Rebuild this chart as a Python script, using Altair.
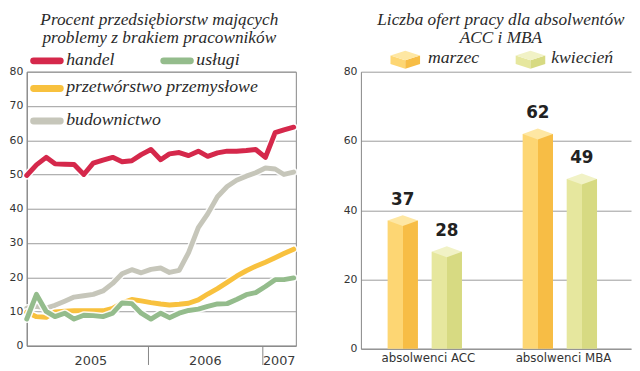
import altair as alt
import pandas as pd

# ---------------- data: left chart ----------------
month_list = [(2004, 12)] + [(2005, m) for m in range(1, 13)] + [(2006, m) for m in range(1, 13)] + [(2007, m) for m in range(1, 5)]
dates = [f"{y}-{m:02d}-10" for y, m in month_list]

series_names = ["handel", "usługi", "przetwórstwo przemysłowe", "budownictwo"]
handel = [49.7, 52.8, 55.0, 53.1, 53.0, 52.9, 50.0, 53.3, 54.2, 55.0, 53.7, 54.0, 55.8, 57.3, 54.3,
          56.0, 56.4, 55.5, 56.8, 55.3, 56.3, 56.8, 56.8, 57.0, 57.3, 55.0, 62.2, 63.0, 63.8]
uslugi = [7.8, 15.0, 10.0, 8.5, 9.5, 7.8, 8.9, 8.8, 8.5, 9.5, 12.5, 12.3, 9.5, 7.8, 9.5,
          8.2, 9.5, 10.3, 10.7, 11.5, 12.2, 12.3, 13.5, 14.9, 15.5, 17.3, 19.3, 19.3, 19.8]
przetworstwo = [9.8, 8.5, 8.3, 9.9, 10.1, 10.2, 10.2, 10.2, 10.2, 10.9, 12.5, 13.5, 13.1, 12.6, 12.2,
                11.9, 12.1, 12.4, 13.4, 15.1, 16.7, 18.5, 20.3, 21.9, 23.2, 24.4, 25.7, 26.9, 28.2]
budownictwo = [11.0, 11.5, 11.0, 11.8, 13.0, 14.2, 14.6, 15.0, 16.0, 18.2, 21.0, 22.2, 21.3, 22.3, 22.7,
               21.4, 22.0, 27.2, 34.5, 38.5, 43.5, 46.5, 48.3, 49.5, 50.5, 51.9, 51.6, 50.0, 50.7]
series_values = [handel, uslugi, przetworstwo, budownictwo]
series_colors = ["#D5284B", "#94BC8C", "#F8C13E", "#C6C6BA"]

years = ["2005", "2006", "2007"]
y_ticks_left = [0, 10, 20, 30, 40, 50, 60, 70, 80]

# ---------------- data: right chart ----------------
categories = ["absolwenci ACC", "absolwenci MBA"]
months = ["marzec", "kwiecień"]
values_marzec = [37, 62]
values_kwiecien = [28, 49]
y_ticks_right = [0, 20, 40, 60, 80]

title_left = "Procent przedsiębiorstw mających\nproblemy z brakiem pracowników"
title_right = "Liczba ofert pracy dla absolwentów\nACC i MBA"

# ---------------- build tables ----------------
rows = []
for name, vals in zip(series_names, series_values):
    for d, v in zip(dates, vals):
        rows.append({"date": d, "value": v, "series": name})
df_lines = pd.DataFrame(rows)

dom_start = "2004-12-10"
dom_end = "2007-04-17"
ts = pd.Timestamp
year_bounds = [(max(ts(dom_start), ts(f"{y}-01-01")), min(ts(dom_end), ts(f"{int(y)+1}-01-01"))) for y in years]
year_mid = [(a + (b - a) / 2).strftime("%Y-%m-%dT%H:%M:%SZ") for a, b in year_bounds]
df_years = pd.DataFrame({"year": years, "mid": year_mid})

df_bars = pd.DataFrame({
    "cat": categories * 2,
    "month": [months[0]] * 2 + [months[1]] * 2,
    "val": values_marzec + values_kwiecien,
})

# ---------------- styles ----------------
SANS = "DejaVu Sans"
SERIF = "Liberation Serif"
GRID = "#9a9a9a"
DOMAIN = "#858585"
LBL = "#333333"

WL, HL = 273, 278
WR, HR = 274, 281

def dt(s):
    t = ts(s)
    return alt.DateTime(year=t.year, month=t.month, date=t.day, utc=True)

x_axis_left = alt.Axis(values=[dt("2006-01-01"), dt("2007-01-01")], labels=False, title=None,
                       grid=False, tickSize=19, tickColor=DOMAIN, tickWidth=1,
                       domainColor=DOMAIN, domainWidth=1)
x_scale_left = alt.Scale(type="utc", domain=[dt(dom_start), dt(dom_end)])
x_left = alt.X("date:T", scale=x_scale_left, axis=x_axis_left)
y_left = alt.Y("value:Q", scale=alt.Scale(domain=[0, 80], nice=False),
               axis=alt.Axis(values=y_ticks_left, title=None, grid=True, gridColor=GRID, gridWidth=1,
                             ticks=False, domainColor=DOMAIN, labelFont=SANS, labelFontSize=11,
                             labelColor=LBL, labelPadding=4))

def one(text):
    return pd.DataFrame({"t": [text]})

def txt(text, x, y, **kw):
    return alt.Chart(one(text)).mark_text(**kw).encode(text="t:N", x=alt.value(x), y=alt.value(y))

left_layers = []
draw_order = ["budownictwo", "przetwórstwo przemysłowe", "usługi", "handel"]
color_of = dict(zip(series_names, series_colors))
base = alt.Chart(df_lines)
for name in draw_order:
    f = base.transform_filter(alt.datum.series == name)
    left_layers.append(f.mark_line(strokeWidth=8, color="white", opacity=0.9,
                                   strokeJoin="round", strokeCap="round").encode(x=x_left, y=y_left))
    left_layers.append(f.mark_line(strokeWidth=5, color=color_of[name],
                                   strokeJoin="round", strokeCap="round").encode(x=x_left, y=y_left))

x_years = alt.X("mid:T", scale=x_scale_left, axis=x_axis_left)
left_layers.append(alt.Chart(df_years).mark_text(font=SANS, fontSize=13, color="#3a3a3a", baseline="middle")
                   .encode(x=x_years, text="year:N", y=alt.value(HL + 16)))

# title
left_layers.append(txt(title_left, WL / 2 - 2, -47, font=SERIF, fontStyle="italic", fontSize=17.5,
                       color="#2a2a2a", lineBreak="\n", lineHeight=18, align="center", baseline="alphabetic"))

# legend (left)
leg_items = [("handel", 7, 40, -12), ("usługi", 139, 172, -12),
             ("przetwórstwo przemysłowe", 7, 40, 16), ("budownictwo", 7, 40, 49)]
for name, sx, tx, ty in leg_items:
    left_layers.append(alt.Chart(one(name)).mark_rule(strokeWidth=7, strokeCap="round", color=color_of[name])
                       .encode(x=alt.value(sx), x2=alt.value(sx + 27), y=alt.value(ty + 1)))
    left_layers.append(txt(name, tx, ty, font=SERIF, fontStyle="italic", fontSize=18, color="#2a2a2a",
                           align="left", baseline="middle"))

left = alt.layer(*left_layers).properties(width=WL, height=HL, view=alt.ViewBackground(stroke=DOMAIN, strokeWidth=1))

# ---------------- right chart ----------------
bar_light = {"marzec": "#FDD673", "kwiecień": "#E6E79E"}
bar_dark = {"marzec": "#F7BD45", "kwiecień": "#D7DA82"}
bar_cap = {"marzec": "#FEE7A3", "kwiecień": "#F1F2C6"}

x_right = alt.X("cat:N", scale=alt.Scale(domain=categories, paddingInner=0, paddingOuter=0),
                axis=alt.Axis(title=None, labelAngle=0, ticks=False, domainColor=DOMAIN,
                              labelFont=SANS, labelFontSize=12, labelColor=LBL, labelPadding=4))
xoff = alt.XOffset("month:N", scale=alt.Scale(domain=months, paddingInner=0.311, paddingOuter=0.689, align=0.44))
y_right = alt.Y("val:Q", scale=alt.Scale(domain=[0, 80], nice=False),
                axis=alt.Axis(values=y_ticks_right, title=None, grid=True, gridColor=GRID, gridWidth=1,
                              ticks=False, domainColor=DOMAIN, labelFont=SANS, labelFontSize=11,
                              labelColor=LBL, labelPadding=4))

step = WR / 2 / (2 - 0.311 + 2 * 0.689)
bw = step * (1 - 0.311)

right_layers = []
rbase = alt.Chart(df_bars)
for m in months:
    f = rbase.transform_filter(alt.datum.month == m)
    grad = alt.LinearGradient(gradient="linear", x1=0, x2=1, y1=0, y2=0,
                              stops=[alt.GradientStop(offset=0, color=bar_light[m]),
                                     alt.GradientStop(offset=0.5, color=bar_light[m]),
                                     alt.GradientStop(offset=0.5, color=bar_dark[m]),
                                     alt.GradientStop(offset=1, color=bar_dark[m])])
    right_layers.append(f.mark_bar(color=grad).encode(x=x_right, xOffset=xoff, y=y_right))
    right_layers.append(f.mark_point(shape="M-1,0L0,-0.36L1,0L0,0.36Z", size=bw * bw, filled=True,
                                     opacity=1, color=bar_cap[m], strokeWidth=0)
                        .encode(x=x_right, xOffset=xoff, y=y_right))
right_layers.append(rbase.mark_text(font=SANS, fontWeight="bold", fontSize=17, color="#222222",
                                    baseline="middle", dy=-21)
                    .encode(x=x_right, xOffset=xoff, y=y_right, text="val:Q"))

right_layers.append(txt(title_right, 142, -47, font=SERIF, fontStyle="italic", fontSize=17.5,
                        color="#2a2a2a", lineBreak="\n", lineHeight=18, align="center", baseline="alphabetic"))

# legend (right) : small 3D box icons
icon_top = "M-1,-0.3L0,-0.62L1,-0.3L0,0.02Z"
icon_left = "M-1,-0.3L0,0.02L0,0.6L-1,0.28Z"
icon_right = "M0,0.02L1,-0.3L1,0.28L0,0.6Z"
for m, ix, tx in [("marzec", 45, 68), ("kwiecień", 172, 193)]:
    for path, col in [(icon_left, bar_light[m]), (icon_right, bar_dark[m]), (icon_top, bar_cap[m])]:
        right_layers.append(alt.Chart(one(m)).mark_point(shape=path, size=900, filled=True, opacity=1,
                                                          color=col, strokeWidth=0)
                            .encode(x=alt.value(ix), y=alt.value(-12)))
    right_layers.append(txt(m, tx, -14, font=SERIF, fontStyle="italic", fontSize=18, color="#2a2a2a",
                            align="left", baseline="middle"))

right = alt.layer(*right_layers).properties(width=WR, height=HR,
                                           view=alt.ViewBackground(stroke="transparent"))

chart = alt.hconcat(left, right, spacing=44).properties(padding={"left": 0, "top": 0, "right": 0, "bottom": 0})
chart = chart.configure(background="white")

chart.save("out.html", embed_options={"renderer": "svg", "actions": False})
